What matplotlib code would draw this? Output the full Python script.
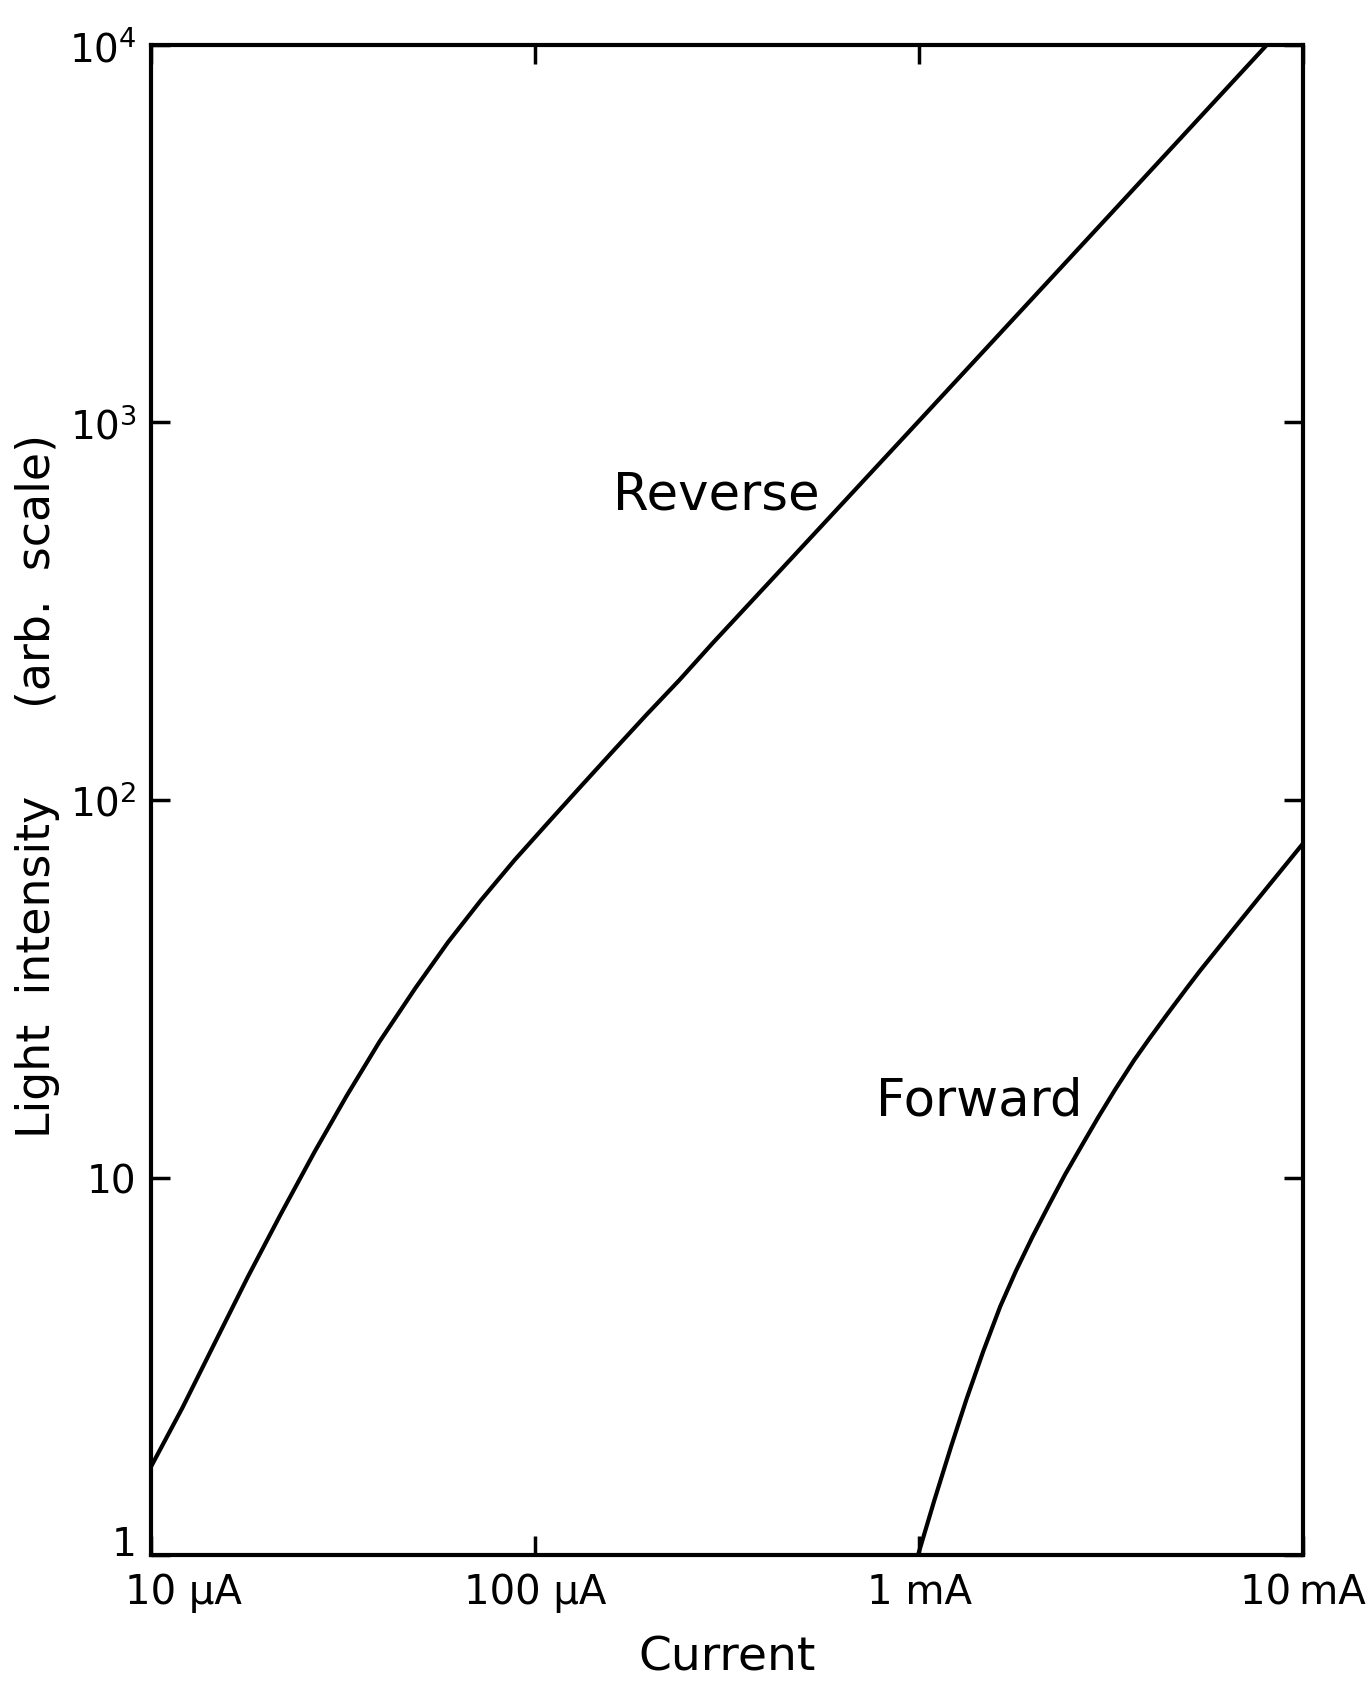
import numpy as np
import matplotlib.pyplot as plt
from matplotlib.transforms import ScaledTranslation

# Light output vs. diode current, reverse and forward bias (log-log)
rev_current = [1.0e-5, 1.21e-5, 1.48e-5, 1.79e-5, 2.18e-5, 2.67e-5, 3.24e-5,
               3.94e-5, 4.89e-5, 5.94e-5, 7.23e-5, 8.85e-5, 1.08e-4, 1.31e-4,
               1.60e-4, 1.95e-4, 2.38e-4, 2.91e-4, 5.01e-4, 1.0e-3, 3.16e-3,
               8.05e-3]
rev_light = [1.71, 2.46, 3.71, 5.46, 8.00, 11.7, 16.5,
             22.9, 31.8, 42.0, 54.2, 69.3, 86.9, 108,
             135, 168, 208, 261, 473, 1009, 3573,
             10000]

fwd_current = [0.993e-3, 1.096e-3, 1.213e-3, 1.330e-3, 1.469e-3, 1.626e-3,
               1.786e-3, 1.972e-3, 2.183e-3, 2.399e-3, 2.655e-3, 2.931e-3,
               3.236e-3, 3.631e-3, 3.981e-3, 4.436e-3, 5.012e-3, 5.395e-3,
               6.577e-3, 8.035e-3, 1.0e-2]
fwd_light = [1.0, 1.40, 1.95, 2.60, 3.47, 4.56,
             5.66, 6.97, 8.51, 10.2, 12.2, 14.5,
             17.1, 20.5, 23.4, 27.2, 32.1, 35.4,
             45.5, 58.5, 76.9]

x_ticks = [1e-5, 1e-4, 1e-3, 1e-2]
x_labels = ["10 µA", "100 µA", "1 mA", "10\u2009mA"]
y_ticks = [1, 10, 100, 1000, 10000]
y_labels = ["1", "10", "$10^2$", "$10^3$", "$10^4$"]

plt.rcParams['font.family'] = ['DejaVu Sans']
plt.rcParams['mathtext.fontset'] = 'dejavusans'

fig = plt.figure(figsize=(13.69, 16.9), dpi=100)
ax = fig.add_axes([0.110, 0.079, 0.842, 0.894])

ax.plot(rev_current, rev_light, color='black', lw=3.0, solid_capstyle='butt')
ax.plot(fwd_current, fwd_light, color='black', lw=3.0, solid_capstyle='butt')

ax.set_xscale('log')
ax.set_yscale('log')
ax.set_xlim(1e-5, 1e-2)
ax.set_ylim(1, 1e4)

ax.set_xticks(x_ticks)
ax.set_xticklabels(x_labels)
ax.set_yticks(y_ticks)
ax.set_yticklabels(y_labels)
ax.minorticks_off()

ax.tick_params(axis='both', which='major', direction='in', length=14, width=2.5,
               labelsize=28, top=True, right=True, pad=10)
ax.tick_params(axis='x', labelsize=29, pad=12)

for sp in ax.spines.values():
    sp.set_linewidth(3.0)

# nudge the corner labels so "1" and "10 µA" don't collide
lbls = ax.get_xticklabels()
lbls[0].set_transform(lbls[0].get_transform() + ScaledTranslation(0.33, 0, fig.dpi_scale_trans))
ylbls = ax.get_yticklabels()
ylbls[0].set_transform(ylbls[0].get_transform() + ScaledTranslation(0, 0.15, fig.dpi_scale_trans))

ax.set_xlabel("Current", fontsize=34)
ax.xaxis.set_label_coords(0.5, -0.052)
ax.set_ylabel("Light  intensity      (arb.  scale)", fontsize=33)
ax.yaxis.set_label_coords(-0.0785, 0.51)

ax.text(5.5e-4, 645, "Reverse", fontsize=37, ha='right', va='center')
ax.text(2.67e-3, 16, "Forward", fontsize=37, ha='right', va='center')

fig.savefig("out.png", dpi=100, facecolor='white')
